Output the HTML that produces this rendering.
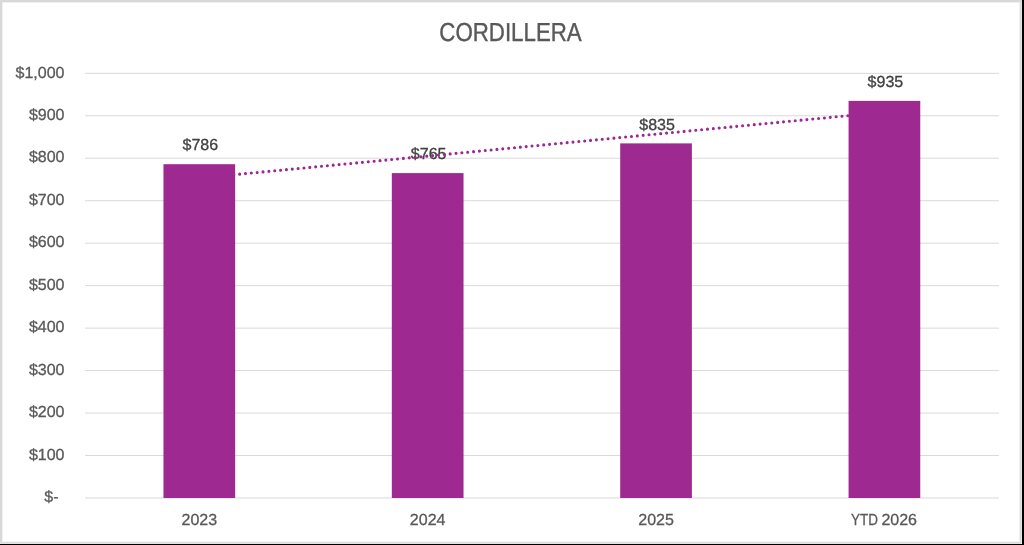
<!DOCTYPE html>
<html><head><meta charset="utf-8"><style>
html,body{margin:0;padding:0;background:#fff;width:1024px;height:545px;overflow:hidden}
svg{position:absolute;left:0;top:0;display:block;will-change:transform}
text{font-family:"Liberation Sans",sans-serif;text-rendering:geometricPrecision}
.dl{font-size:16px;fill:#404040;stroke:#404040;stroke-width:0.3px;text-anchor:middle}
.yl{font-size:16px;fill:#595959;stroke:#595959;stroke-width:0.3px;text-anchor:end}
.xl{font-size:16px;fill:#595959;stroke:#595959;stroke-width:0.3px;text-anchor:middle}
.tt{font-size:26px;fill:#595959;stroke:#595959;stroke-width:0.4px;text-anchor:middle}
</style></head><body>
<svg width="1024" height="545" viewBox="0 0 1024 545">
<rect x="0" y="0" width="1024" height="545" fill="#fff"/>
<rect x="0" y="0" width="1024" height="2" fill="#d8d8d8"/>
<rect x="2" y="2" width="1017" height="1" fill="#f0f0f0"/>
<rect x="0" y="0" width="2" height="545" fill="#d8d8d8"/>
<rect x="2" y="2" width="1" height="540" fill="#f0f0f0"/>
<rect x="1019" y="2" width="1" height="540" fill="#efefef"/>
<rect x="1020" y="2" width="1" height="541" fill="#dadada"/>
<rect x="1021" y="2" width="1" height="541" fill="#e5e5e5"/>
<rect x="2" y="541" width="1017" height="1" fill="#f5f5f5"/>
<rect x="0" y="542" width="1020" height="1" fill="#dcdcdc"/>
<rect x="0" y="543" width="1021" height="1" fill="#e3e3e3"/>
<rect x="1021" y="543" width="1" height="1" fill="#f5f5f5"/>
<rect x="1022" y="0" width="2" height="545" fill="#000"/>
<rect x="0" y="544" width="1024" height="1" fill="#000"/>
<rect x="85" y="72.80" width="914" height="1" fill="#d9d9d9"/>
<rect x="85" y="115.27" width="914" height="1" fill="#d9d9d9"/>
<rect x="85" y="157.74" width="914" height="1" fill="#d9d9d9"/>
<rect x="85" y="200.21" width="914" height="1" fill="#d9d9d9"/>
<rect x="85" y="242.68" width="914" height="1" fill="#d9d9d9"/>
<rect x="85" y="285.15" width="914" height="1" fill="#d9d9d9"/>
<rect x="85" y="327.62" width="914" height="1" fill="#d9d9d9"/>
<rect x="85" y="370.09" width="914" height="1" fill="#d9d9d9"/>
<rect x="85" y="412.56" width="914" height="1" fill="#d9d9d9"/>
<rect x="85" y="455.03" width="914" height="1" fill="#d9d9d9"/>
<rect x="85" y="497.50" width="914" height="1" fill="#d9d9d9"/>
<text x="200.30" y="150.39" class="dl">$786</text>
<text x="428.67" y="159.30" class="dl">$765</text>
<text x="657.04" y="129.58" class="dl">$835</text>
<text x="885.41" y="87.11" class="dl">$935</text>
<line x1="199.30" y1="178.03" x2="884.41" y2="112.16" stroke="#9c2795" stroke-width="3.1" stroke-dasharray="0 5.875" stroke-dashoffset="0.6" stroke-linecap="round"/>
<rect x="163.45" y="164.19" width="71.7" height="333.81" fill="#9e2a91"/>
<rect x="391.82" y="173.10" width="71.7" height="324.90" fill="#9e2a91"/>
<rect x="620.19" y="143.38" width="71.7" height="354.62" fill="#9e2a91"/>
<rect x="848.56" y="100.91" width="71.7" height="397.09" fill="#9e2a91"/>
<text x="64.5" y="77.55" class="yl">$1,000</text>
<text x="64.5" y="120.02" class="yl">$900</text>
<text x="64.5" y="162.49" class="yl">$800</text>
<text x="64.5" y="204.96" class="yl">$700</text>
<text x="64.5" y="247.43" class="yl">$600</text>
<text x="64.5" y="289.90" class="yl">$500</text>
<text x="64.5" y="332.37" class="yl">$400</text>
<text x="64.5" y="374.84" class="yl">$300</text>
<text x="64.5" y="417.31" class="yl">$200</text>
<text x="64.5" y="459.78" class="yl">$100</text>
<text x="58.5" y="502.25" class="yl">$-</text>
<text x="199.30" y="524.7" class="xl">2023</text>
<text x="427.67" y="524.7" class="xl">2024</text>
<text x="656.04" y="524.7" class="xl">2025</text>
<g transform="translate(851.1,524.7) scale(0.84,1)"><text x="0" y="0" class="xl" style="text-anchor:start">YTD</text></g>
<text x="881.4" y="524.7" class="xl" style="text-anchor:start">2026</text>
<g transform="translate(510.5,40.9) scale(0.857,1)"><text x="0" y="0" class="tt">CORDILLERA</text></g>
</svg>
</body></html>
